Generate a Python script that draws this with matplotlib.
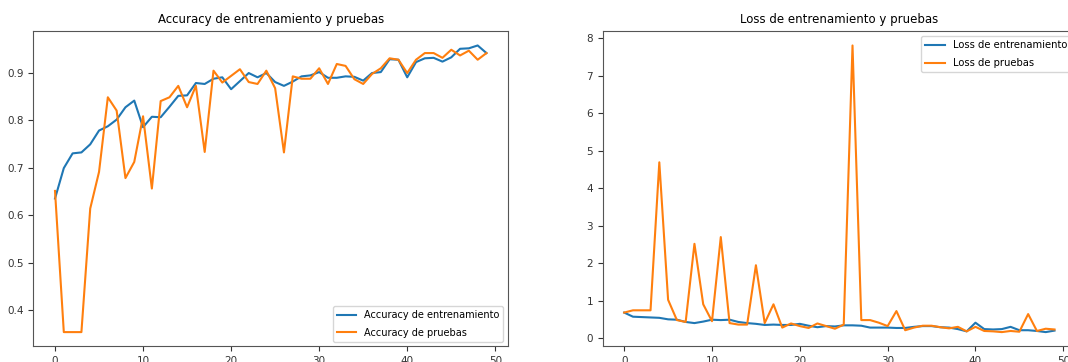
import matplotlib
matplotlib.use('Agg')
import matplotlib.pyplot as plt
import numpy as np

# Datos (50 épocas)
epochs = list(range(50))

acc_train = [0.635, 0.699, 0.730, 0.732, 0.749, 0.778, 0.787, 0.801, 0.827, 0.841,
             0.785, 0.807, 0.806, 0.828, 0.851, 0.852, 0.878, 0.876, 0.887, 0.890,
             0.865, 0.882, 0.899, 0.890, 0.899, 0.880, 0.872, 0.881, 0.892, 0.894,
             0.901, 0.889, 0.889, 0.892, 0.891, 0.883, 0.899, 0.901, 0.928, 0.927,
             0.890, 0.922, 0.930, 0.931, 0.923, 0.932, 0.950, 0.951, 0.957, 0.941]

acc_val = [0.651, 0.354, 0.354, 0.354, 0.614, 0.691, 0.848, 0.820, 0.678, 0.712,
           0.808, 0.656, 0.840, 0.848, 0.872, 0.827, 0.872, 0.733, 0.904, 0.879,
           0.893, 0.907, 0.880, 0.876, 0.904, 0.867, 0.732, 0.892, 0.887, 0.887,
           0.909, 0.876, 0.918, 0.914, 0.886, 0.876, 0.897, 0.909, 0.930, 0.927,
           0.899, 0.927, 0.941, 0.941, 0.931, 0.948, 0.936, 0.946, 0.927, 0.941]

loss_train = [0.69, 0.58, 0.57, 0.56, 0.55, 0.51, 0.50, 0.44, 0.41, 0.45,
              0.50, 0.49, 0.50, 0.44, 0.41, 0.39, 0.36, 0.37, 0.36, 0.36,
              0.39, 0.34, 0.30, 0.33, 0.32, 0.35, 0.35, 0.34, 0.29, 0.29,
              0.29, 0.28, 0.28, 0.31, 0.33, 0.33, 0.30, 0.29, 0.25, 0.19,
              0.42, 0.25, 0.24, 0.25, 0.31, 0.22, 0.22, 0.20, 0.17, 0.21]

loss_val = [0.69, 0.75, 0.75, 0.75, 4.69, 1.03, 0.49, 0.44, 2.52, 0.91,
            0.46, 2.70, 0.41, 0.37, 0.37, 1.95, 0.41, 0.91, 0.29, 0.40,
            0.33, 0.28, 0.40, 0.33, 0.26, 0.37, 7.80, 0.49, 0.49, 0.42,
            0.33, 0.73, 0.22, 0.29, 0.34, 0.34, 0.30, 0.27, 0.31, 0.19,
            0.31, 0.20, 0.19, 0.17, 0.20, 0.18, 0.65, 0.20, 0.26, 0.24]

fig = plt.figure(figsize=(10.68, 3.62), dpi=100)

# posiciones de los ejes (la figura original está recortada a la derecha y abajo)
ax1 = fig.add_axes([0.0313, 0.043, 0.4444, 0.871])
ax2 = fig.add_axes([0.5643, 0.043, 0.4432, 0.871])

ax1.plot(epochs, acc_train, label='Accuracy de entrenamiento')
ax1.plot(epochs, acc_val, label='Accuracy de pruebas')
ax1.set_title('Accuracy de entrenamiento y pruebas', fontsize=8.5)
ax1.legend(loc='lower right', fontsize=7, labelspacing=0.8)

ax2.plot(epochs, loss_train, label='Loss de entrenamiento')
ax2.plot(epochs, loss_val, label='Loss de pruebas')
ax2.set_title('Loss de entrenamiento y pruebas', fontsize=8.5)
ax2.legend(loc='upper right', fontsize=7.2, labelspacing=0.8)

for ax in (ax1, ax2):
    ax.tick_params(labelsize=7.5, colors='#333333')
    for s in ax.spines.values():
        s.set_color('#555555')

fig.savefig('out.png', dpi=100)
